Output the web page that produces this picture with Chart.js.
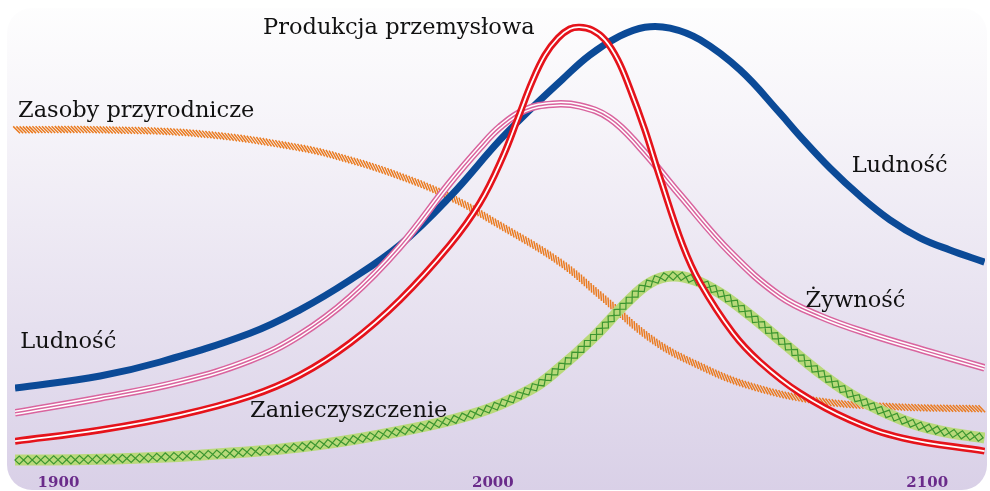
<!DOCTYPE html>
<html>
<head>
<meta charset="utf-8">
<script src="https://cdn.jsdelivr.net/npm/chart.js@4"></script>
<style>
  html, body { margin: 0; padding: 0; background: #fff; }
  canvas { display: block; }
</style>
</head>
<body>
<canvas id="worldChart" width="990" height="491"></canvas>
<script>
// lata na osi
const tickYears = [1900, 2000, 2100]

// Ludność
const popYears = [1890, 1909.6, 1923.4, 1944.1, 1955.6, 1967.1, 1978.6, 1990.1, 2001.6, 2008.5, 2015.9, 2022.3, 2029.2, 2035.0, 2040.8, 2047.7, 2056.9, 2066.1, 2070.7, 2077.6, 2084.5, 2091.4, 2098.3, 2105.2, 2113.2]
const popVals  = [18.2, 20.9, 24.0, 30.4, 35.6, 42.2, 50.0, 60.7, 73.3, 80.0, 86.7, 92.2, 96.4, 98.4, 98.2, 95.6, 88.9, 79.3, 74.2, 67.1, 60.9, 55.6, 51.6, 48.9, 46.2]

// Produkcja przemysłowa
const indYears = [1890, 1909.6, 1928.0, 1944.1, 1955.6, 1967.1, 1978.6, 1990.1, 1997.0, 2002.3, 2005.8, 2009.0, 2012.0, 2015.0, 2017.7, 2020.0, 2022.8, 2025.8, 2028.8, 2031.5, 2035.0, 2038.5, 2043.7, 2047.7, 2055.3, 2061.5, 2070.7, 2082.2, 2094.4, 2113.2]
const indVals  = [6.4, 8.9, 12.2, 16.4, 21.1, 28.2, 37.8, 50.0, 59.3, 69.6, 78.2, 86.2, 92.2, 96.0, 98.0, 98.4, 97.8, 95.6, 91.1, 84.9, 75.6, 64.9, 50.0, 41.6, 30.4, 24.0, 17.1, 11.1, 7.1, 4.2]

// Żywność
const foodYears = [1890, 1909.6, 1928.0, 1944.1, 1955.6, 1967.1, 1978.6, 1990.1, 1997.0, 2001.6, 2007.4, 2013.8, 2020.0, 2026.9, 2033.8, 2043.1, 2054.6, 2066.1, 2075.3, 2086.8, 2100.6, 2113.2]
const foodVals  = [12.7, 16.0, 19.6, 24.4, 30.0, 38.3, 49.6, 63.8, 71.6, 76.2, 80.0, 81.3, 80.9, 78.2, 71.8, 61.1, 48.4, 38.7, 34.2, 30.2, 26.2, 22.7]

// Zasoby przyrodnicze
const resYears = [1890, 1909.6, 1932.6, 1955.6, 1967.1, 1978.6, 1990.1, 2001.6, 2015.4, 2024.6, 2036.8, 2047.7, 2059.2, 2075.3, 2093.7, 2113.2]
const resVals  = [75.6, 75.6, 74.7, 71.6, 68.9, 65.3, 60.7, 54.4, 46.2, 38.9, 28.9, 23.1, 18.7, 15.3, 14.0, 13.6]

// Zanieczyszczenie
const polYears = [1890, 1909.6, 1932.6, 1955.6, 1974.0, 1994.7, 2008.5, 2015.4, 2023.0, 2030.9, 2036.2, 2041.2, 2046.5, 2052.3, 2059.2, 2066.1, 2075.3, 2084.5, 2094.4, 2102.9, 2113.2]
const polVals  = [2.2, 2.4, 3.3, 5.1, 7.8, 12.2, 17.8, 22.7, 29.3, 37.3, 41.6, 43.1, 42.2, 39.3, 34.4, 28.9, 21.6, 15.6, 11.1, 8.7, 7.1]

// podpisy krzywych: [tekst, rok, poziom]
const curveLabels = [
    ['Produkcja przemysłowa', 1947.1, 96.9],
    ['Zasoby przyrodnicze', 1890.7, 78.4],
    ['Ludność', 2082.6, 66.2],
    ['Żywność', 2072.0, 36.2],
    ['Ludność', 1891.2, 27.1],
    ['Zanieczyszczenie', 1944.1, 11.8]
]

function toPoints(xs, ys) {
    return xs.map((x, i) => ({ x: x, y: ys[i] }))
}

// próbkowanie krzywej beziera co zadany odstęp (po długości łuku)
function sampleCurve(meta, spacing) {
    const pts = meta.data
    const dense = []
    for (let i = 0; i < pts.length - 1; i++) {
        const a = pts[i], b = pts[i + 1]
        const c1x = a.cp2x ?? a.x, c1y = a.cp2y ?? a.y
        const c2x = b.cp1x ?? b.x, c2y = b.cp1y ?? b.y
        for (let k = 0; k < 40; k++) {
            const t = k / 40, u = 1 - t
            dense.push({
                x: u*u*u*a.x + 3*u*u*t*c1x + 3*u*t*t*c2x + t*t*t*b.x,
                y: u*u*u*a.y + 3*u*u*t*c1y + 3*u*t*t*c2y + t*t*t*b.y
            })
        }
    }
    const last = pts[pts.length - 1]
    dense.push({ x: last.x, y: last.y })

    const out = []
    let acc = spacing / 2
    for (let i = 1; i < dense.length; i++) {
        const p = dense[i - 1], q = dense[i]
        const dx = q.x - p.x, dy = q.y - p.y
        const len = Math.hypot(dx, dy)
        if (len === 0) continue
        let pos = 0
        while (acc <= len - pos) {
            pos += acc
            const f = pos / len
            out.push({ x: p.x + dx * f, y: p.y + dy * f, tx: dx / len, ty: dy / len })
            acc = spacing
        }
        acc -= (len - pos)
    }
    return out
}

// tło z gradientem i zaokrąglonymi rogami
const panelPlugin = {
    id: 'panel',
    beforeDraw(chart) {
        const ctx = chart.ctx
        ctx.save()
        ctx.fillStyle = '#ffffff'
        ctx.fillRect(0, 0, chart.width, chart.height)
        const grad = ctx.createLinearGradient(0, 0, 0, chart.height)
        grad.addColorStop(0, '#fefefe')
        grad.addColorStop(0.25, '#f6f4f9')
        grad.addColorStop(1, '#d9d0e7')
        ctx.fillStyle = grad
        ctx.beginPath()
        ctx.roundRect(7, 8, chart.width - 10, chart.height - 9, 25)
        ctx.fill()
        ctx.restore()
    }
}

// kreskowanie i romby na wybranych liniach
const decorPlugin = {
    id: 'decor',
    afterDatasetDraw(chart, args) {
        const ds = chart.data.datasets[args.index]
        const ctx = chart.ctx
        if (ds.decor === 'hatch') {
            const marks = sampleCurve(args.meta, 3.2)
            ctx.save()
            ctx.strokeStyle = '#ea7b20'
            ctx.lineWidth = 1.5
            ctx.beginPath()
            marks.forEach(m => {
                const nx = -m.ty, ny = m.tx
                const dx = (m.tx + nx) * 3.4, dy = (m.ty + ny) * 3.4
                ctx.moveTo(m.x - dx, m.y - dy)
                ctx.lineTo(m.x + dx, m.y + dy)
            })
            ctx.stroke()
            ctx.restore()
        } else if (ds.decor === 'diamond') {
            const marks = sampleCurve(args.meta, 8.6)
            ctx.save()
            ctx.strokeStyle = '#3c9630'
            ctx.lineWidth = 1.2
            ctx.beginPath()
            marks.forEach(m => {
                const nx = -m.ty, ny = m.tx
                ctx.moveTo(m.x - m.tx * 4.3, m.y - m.ty * 4.3)
                ctx.lineTo(m.x + nx * 4.1, m.y + ny * 4.1)
                ctx.lineTo(m.x + m.tx * 4.3, m.y + m.ty * 4.3)
                ctx.lineTo(m.x - nx * 4.1, m.y - ny * 4.1)
                ctx.closePath()
            })
            ctx.stroke()
            ctx.restore()
        }
    }
}

// podpisy przy krzywych
const labelPlugin = {
    id: 'curveLabels',
    afterDraw(chart) {
        const ctx = chart.ctx
        const xs = chart.scales.x, ys = chart.scales.y
        ctx.save()
        ctx.fillStyle = '#111111'
        ctx.font = '22.5px "DejaVu Serif"'
        ctx.textAlign = 'left'
        ctx.textBaseline = 'alphabetic'
        curveLabels.forEach(([text, yr, v]) => {
            ctx.fillText(text, xs.getPixelForValue(yr), ys.getPixelForValue(v))
        })
        ctx.restore()
    }
}

const context = document.getElementById('worldChart')
const pop = toPoints(popYears, popVals)
const ind = toPoints(indYears, indVals)
const food = toPoints(foodYears, foodVals)
const res = toPoints(resYears, resVals)
const pol = toPoints(polYears, polVals)

const chartData = {
    datasets: [
        // produkcja: czerwona podwójna linia
        { label: 'Produkcja przemysłowa', data: ind, borderColor: '#ffffff', borderWidth: 1.8, order: 0 },
        { label: 'Produkcja przemysłowa', data: ind, borderColor: '#e5131b', borderWidth: 7, order: 1 },
        // zanieczyszczenie: zielona wstęga z rombami
        { label: 'Zanieczyszczenie', data: pol, borderColor: '#b9d97a', borderWidth: 11, decor: 'diamond', order: 2 },
        // żywność: potrójna różowa linia
        { label: 'Żywność', data: food, borderColor: '#d9649e', borderWidth: 1.5, order: 3 },
        { label: 'Żywność', data: food, borderColor: '#ffffff', borderWidth: 4.5, order: 4 },
        { label: 'Żywność', data: food, borderColor: '#d9649e', borderWidth: 7.5, order: 5 },
        // ludność
        { label: 'Ludność', data: pop, borderColor: '#0b4a97', borderWidth: 7, order: 6 },
        // zasoby: kreskowana pomarańczowa
        { label: 'Zasoby przyrodnicze', data: res, borderColor: 'rgba(0,0,0,0)', borderWidth: 7, decor: 'hatch', order: 7 }
    ]
}

const config = {
    type: 'line',
    data: chartData,
    options: {
        responsive: false,
        animation: false,
        devicePixelRatio: 1,
        layout: { padding: { left: 15, right: 5, top: 20, bottom: 0 } },
        elements: {
            point: { radius: 0, hoverRadius: 0 },
            line: { tension: 0.4, borderCapStyle: 'butt', borderJoinStyle: 'round', fill: false }
        },
        plugins: {
            legend: { display: false },
            tooltip: { enabled: false }
        },
        scales: {
            x: {
                type: 'linear',
                min: 1890,
                max: 2113.3,
                afterBuildTicks: axis => { axis.ticks = tickYears.map(v => ({ value: v })) },
                // stała wysokość osi, żeby obszar wykresu kończył się na 470 px
                afterFit: axis => { axis.height = 21 },
                grid: { display: false, drawTicks: false },
                border: { display: false },
                ticks: {
                    autoSkip: false,
                    maxRotation: 0,
                    padding: 4,
                    color: '#6a2b8a',
                    font: { family: 'DejaVu Serif', size: 15, weight: 'bold' },
                    callback: v => String(v)
                }
            },
            y: { display: false, min: 0, max: 100 }
        }
    },
    plugins: [panelPlugin, decorPlugin, labelPlugin]
}

new Chart(context, config)
</script>
</body>
</html>
